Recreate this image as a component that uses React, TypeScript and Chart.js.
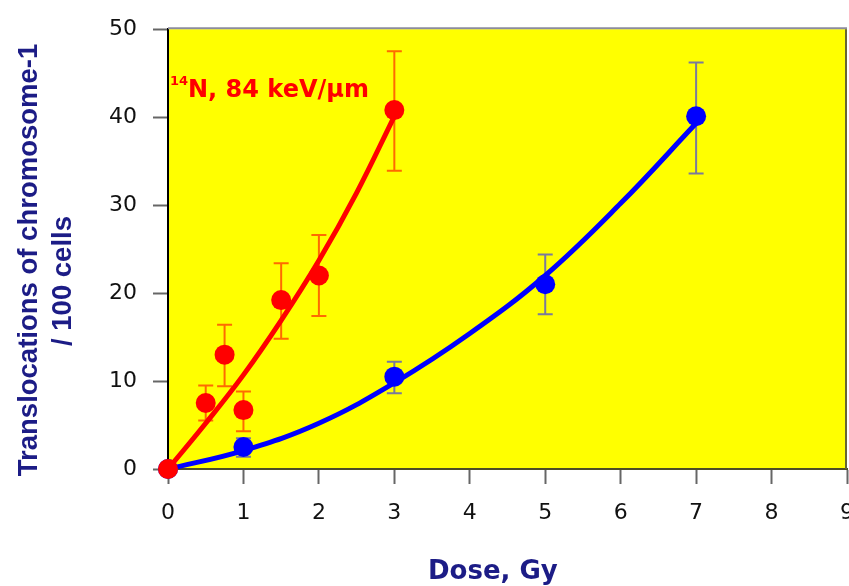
import React, { useEffect, useRef } from 'react';
import { Chart, registerables } from 'chart.js';

Chart.register(...registerables);

// ---- data ----
const redDose = [0, 0.5, 0.75, 1, 1.5, 2, 3];
const redValue = [0, 7.5, 13, 6.7, 19.2, 22, 40.8];
const redErrHigh = [0, 9.5, 16.4, 8.8, 23.4, 26.6, 47.5];
const redErrLow = [0, 5.5, 9.4, 4.3, 14.8, 17.4, 33.9];

const blueDose = [0, 1, 3, 5, 7];
const blueValue = [0, 2.5, 10.5, 21, 40.1];
const blueErrHigh = [0, 3.5, 12.2, 24.4, 46.2];
const blueErrLow = [0, 1.4, 8.6, 17.6, 33.6];

const redFitDose = [0, 0.5, 1, 1.5, 2, 2.5, 3];
const redFitValue = [0, 5.2, 10.7, 16.9, 23.7, 31.4, 40.1];
const blueFitDose = [0, 1, 2, 3, 4, 5, 6, 7];
const blueFitValue = [0, 2.1, 5.2, 9.8, 15.4, 22.0, 30.2, 39.3];

const xTickValues = [0, 1, 2, 3, 4, 5, 6, 7, 8, 9];
const yTickValues = [0, 10, 20, 30, 40, 50];

const yTitleLines = ['Translocations of chromosome-1', '/ 100 cells'];
const xTitle = 'Dose, Gy';
const annotationSup = '14';
const annotationText = 'N, 84 keV/\u00b5m';

const RED = '#ff0000';
const BLUE = '#0000ff';
const NAVY = '#1c1c86';

const toXY = (xs: number[], ys: number[]) => xs.map((x, i) => ({ x, y: ys[i] }));

const errorBars = [
  { xs: blueDose, hi: blueErrHigh, lo: blueErrLow, color: '#7a7a9c' },
  { xs: redDose, hi: redErrHigh, lo: redErrLow, color: '#ff6a00' },
];

const decorPlugin = {
  id: 'decor',
  beforeDraw(chart: any) {
    const { ctx, chartArea: a } = chart;
    ctx.save();
    ctx.fillStyle = '#ffff00';
    ctx.fillRect(a.left, a.top, a.right - a.left, a.bottom - a.top);
    ctx.restore();
  },
  beforeDatasetsDraw(chart: any) {
    const { ctx, chartArea: a, scales } = chart;
    ctx.save();
    ctx.lineWidth = 2;
    ctx.strokeStyle = '#8c8c9c';
    ctx.beginPath();
    ctx.moveTo(a.left, a.top - 1);
    ctx.lineTo(a.right, a.top - 1);
    ctx.stroke();
    ctx.strokeStyle = '#666633';
    ctx.beginPath();
    ctx.moveTo(a.right - 1, a.top);
    ctx.lineTo(a.right - 1, a.bottom);
    ctx.stroke();
    const xs = scales.x;
    const ys = scales.y;
    errorBars.forEach((eb) => {
      ctx.strokeStyle = eb.color;
      ctx.lineWidth = 2;
      eb.xs.forEach((d, i) => {
        if (eb.hi[i] === eb.lo[i]) return;
        const px = xs.getPixelForValue(d);
        const pt = ys.getPixelForValue(eb.hi[i]);
        const pb = ys.getPixelForValue(eb.lo[i]);
        ctx.beginPath();
        ctx.moveTo(px, pt);
        ctx.lineTo(px, pb);
        ctx.moveTo(px - 7.5, pt);
        ctx.lineTo(px + 7.5, pt);
        ctx.moveTo(px - 7.5, pb);
        ctx.lineTo(px + 7.5, pb);
        ctx.stroke();
      });
    });
    ctx.restore();
  },
  afterDraw(chart: any) {
    const { ctx } = chart;
    ctx.save();
    ctx.fillStyle = RED;
    ctx.textAlign = 'left';
    ctx.textBaseline = 'alphabetic';
    ctx.font = 'bold 13px "DejaVu Sans"';
    ctx.fillText(annotationSup, 170, 85);
    ctx.font = 'bold 24px "DejaVu Sans"';
    ctx.fillText(annotationText, 188, 97);
    ctx.fillStyle = NAVY;
    ctx.font = 'bold 26px "DejaVu Sans"';
    ctx.fillText(xTitle, 428, 579);
    ctx.font = 'bold 27.5px "Liberation Sans"';
    ctx.textAlign = 'center';
    ctx.save();
    ctx.translate(37, 260);
    ctx.rotate(-Math.PI / 2);
    ctx.fillText(yTitleLines[0], 0, 0);
    ctx.restore();
    ctx.save();
    ctx.translate(71, 281);
    ctx.rotate(-Math.PI / 2);
    ctx.fillText(yTitleLines[1], 0, 0);
    ctx.restore();
    ctx.restore();
  },
};

export default function App() {
  const ref = useRef<HTMLCanvasElement | null>(null);
  useEffect(() => {
    if (!ref.current) return;
    const chart = new Chart(ref.current, {
      type: 'scatter',
      data: {
        datasets: [
          {
            label: 'N-14 data',
            data: toXY(redDose, redValue),
            backgroundColor: RED,
            borderColor: RED,
            pointRadius: 10,
            pointBorderWidth: 0,
            showLine: false,
            clip: false,
          },
          {
            label: 'N-14 fit',
            data: toXY(redFitDose, redFitValue),
            borderColor: RED,
            borderWidth: 5,
            pointRadius: 0,
            showLine: true,
            tension: 0.4,
          },
          {
            label: 'gamma data',
            data: toXY(blueDose, blueValue),
            backgroundColor: BLUE,
            borderColor: BLUE,
            pointRadius: 10,
            pointBorderWidth: 0,
            showLine: false,
            clip: false,
          },
          {
            label: 'gamma fit',
            data: toXY(blueFitDose, blueFitValue),
            borderColor: BLUE,
            borderWidth: 5,
            pointRadius: 0,
            showLine: true,
            tension: 0.4,
          },
        ],
      },
      options: {
        animation: false,
        responsive: false,
        devicePixelRatio: 1,
        layout: { padding: { top: 25, right: 22, left: 0, bottom: 0 } },
        plugins: {
          legend: { display: false },
          tooltip: { enabled: false },
          title: { display: false },
        },
        scales: {
          x: {
            type: 'linear',
            min: 0,
            max: 9,
            afterBuildTicks: (s: any) => {
              s.ticks = xTickValues.map((v) => ({ value: v }));
            },
            afterFit: (s: any) => {
              s.height = 117;
            },
            ticks: {
              color: '#111',
              font: { family: 'DejaVu Sans', size: 22 },
              padding: 16,
              maxRotation: 0,
            },
            grid: {
              drawOnChartArea: false,
              drawTicks: true,
              tickLength: 15,
              tickColor: '#666',
              tickWidth: 2,
            },
            border: { display: true, color: '#4d4d26', width: 2 },
          },
          y: {
            type: 'linear',
            min: 0,
            max: 50,
            afterBuildTicks: (s: any) => {
              s.ticks = yTickValues.map((v) => ({ value: v }));
            },
            afterFit: (s: any) => {
              s.width = 168;
            },
            ticks: {
              color: '#111',
              font: { family: 'DejaVu Sans', size: 22 },
              padding: 16,
            },
            grid: {
              drawOnChartArea: false,
              drawTicks: true,
              tickLength: 15,
              tickColor: '#666',
              tickWidth: 2,
            },
            border: { display: true, color: '#000', width: 2 },
          },
        },
      } as any,
      plugins: [decorPlugin],
    });
    return () => chart.destroy();
  }, []);

  return (
    <div
      style={{
        position: 'fixed',
        left: 0,
        top: 0,
        width: 849,
        height: 586,
        overflow: 'hidden',
        background: '#fff',
      }}
    >
      <canvas ref={ref} width={870} height={586} style={{ width: 870, height: 586, display: 'block' }} />
    </div>
  );
}
